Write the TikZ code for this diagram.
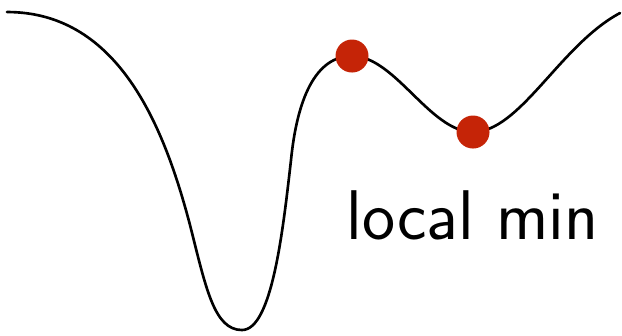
\documentclass[tikz,border=0pt]{standalone}
\usepackage{tikz}

\begin{document}
\begin{tikzpicture}[
  x=0.01cm, y=-0.01cm,
  curve/.style={line width=0.75pt, line cap=round},
  ball/.style={circle, fill=ballRed, inner sep=0pt, minimum size=0.33cm},
  label/.style={font=\sffamily\fontsize{20}{24}\selectfont, inner sep=0pt},
]
\definecolor{ballRed}{HTML}{C52407}
\useasboundingbox (0,0) rectangle (622,335);

% energy landscape: a deep well on the left, a shallow one on the right
\coordinate (start) at (7,12);
\coordinate (deep) at (242,330);
\coordinate (top) at (352,56);
\coordinate (dip) at (473,132);
\coordinate (finish) at (620,13);

\draw[curve] (start)
  .. controls (120,12) and (165,130) .. (190,225)
  .. controls (206,288) and (214,330) .. (deep)
  .. controls (272,330) and (283,230) .. (291,160)
  .. controls (297,100) and (315,56) .. (top)
  .. controls (395,56) and (430,132) .. (dip)
  .. controls (520,132) and (560,45) .. (finish);

\node[ball] (peak) at (top) {};
\node[ball] (shallow) at (dip) {};

\node[label, anchor=base west] (minlabel) at (346,239) {local min};
\end{tikzpicture}
\end{document}
